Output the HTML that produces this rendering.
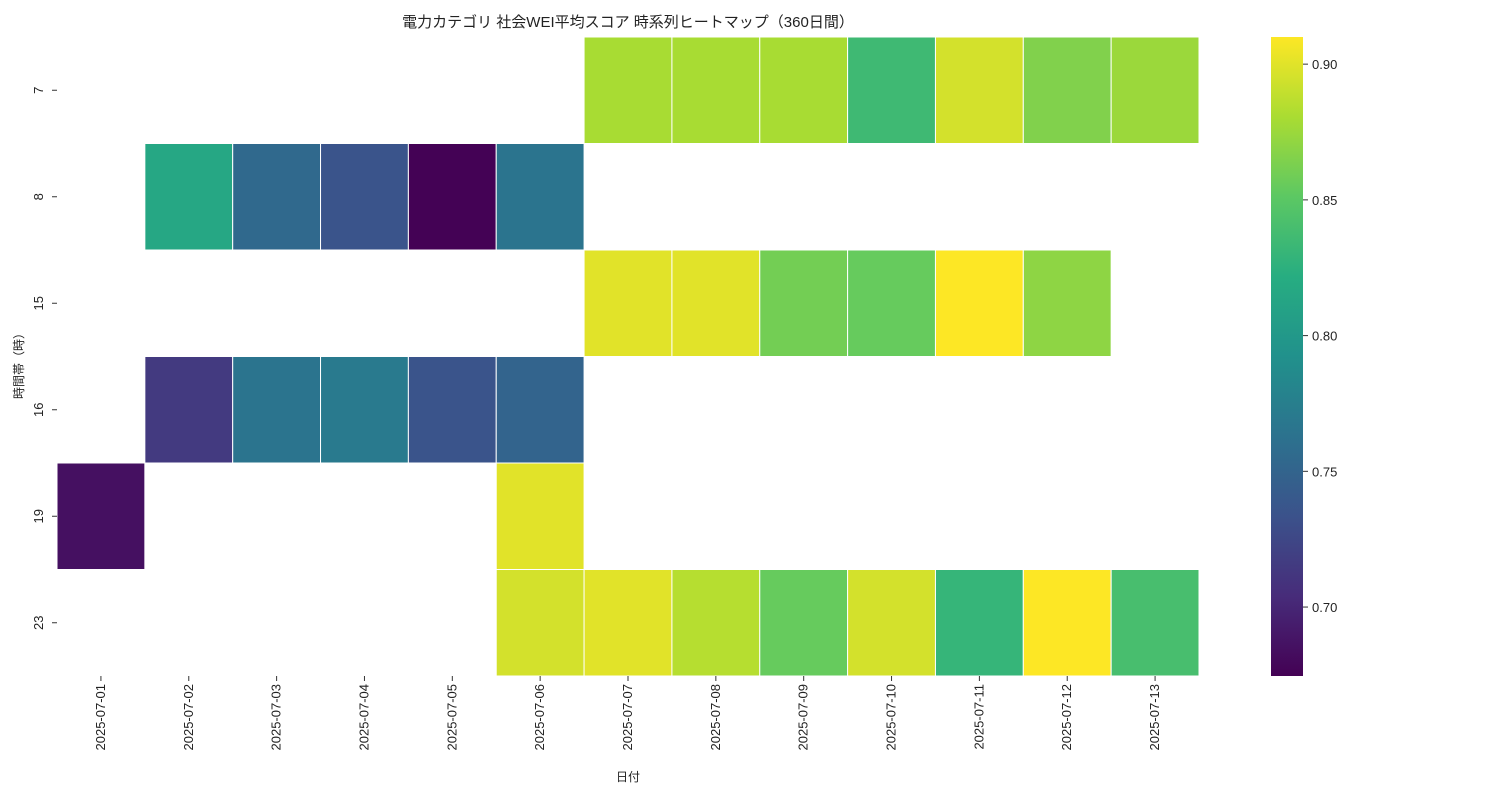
<!DOCTYPE html>
<html><head><meta charset="utf-8">
<style>
body{margin:0;background:#fff;font-family:"Liberation Sans","Noto Sans CJK JP",sans-serif;}
svg text{font-family:"Liberation Sans","Noto Sans CJK JP",sans-serif;fill:#222;}
</style></head>
<body>
<svg id="chart" width="1500" height="800" xmlns="http://www.w3.org/2000/svg">
<text x="628" y="27" font-size="15" text-anchor="middle">電力カテゴリ 社会WEI平均スコア 時系列ヒートマップ（360日間）</text>
<text x="628" y="781" font-size="12" text-anchor="middle">日付</text>
<text transform="translate(23,363) rotate(-90)" font-size="12" text-anchor="middle">時間帯（時）</text>
<defs><linearGradient id="vg" x1="0" y1="1" x2="0" y2="0">
<stop offset="0" stop-color="rgb(68,1,84)"/><stop offset="0.125" stop-color="rgb(71,44,122)"/><stop offset="0.25" stop-color="rgb(59,82,139)"/><stop offset="0.375" stop-color="rgb(44,114,142)"/><stop offset="0.5" stop-color="rgb(33,145,140)"/><stop offset="0.625" stop-color="rgb(39,173,129)"/><stop offset="0.75" stop-color="rgb(92,200,99)"/><stop offset="0.875" stop-color="rgb(170,220,50)"/><stop offset="1" stop-color="rgb(253,231,37)"/></linearGradient></defs>
<g id="cells"></g><g id="axes"></g>
</svg>
<script>
const dates=["2025-07-01","2025-07-02","2025-07-03","2025-07-04","2025-07-05","2025-07-06","2025-07-07","2025-07-08","2025-07-09","2025-07-10","2025-07-11","2025-07-12","2025-07-13"];
const hours=["7","8","15","16","19","23"];
const values=[
[null,null,null,null,null,null,0.88,0.88,0.88,0.835,0.895,0.865,0.875],
[null,0.815,0.755,0.735,0.675,0.765,null,null,null,null,null,null,null],
[null,null,null,null,null,null,0.90,0.90,0.86,0.855,0.91,0.87,null],
[null,0.715,0.765,0.77,0.735,0.75,null,null,null,null,null,null,null],
[0.685,null,null,null,null,0.90,null,null,null,null,null,null,null],
[null,null,null,null,null,0.895,0.90,0.885,0.855,0.895,0.83,0.91,0.84]];
const cbTicks=[0.70,0.75,0.80,0.85,0.90];
const vmin=0.6746,vmax=0.910;
const X0=57,X1=1199,Y0=37,Y1=676,CBX=1271,CBW=32;
const cw=(X1-X0)/dates.length,rh=(Y1-Y0)/hours.length;
const vir=[[68,1,84],[71,44,122],[59,82,139],[44,114,142],[33,145,140],[39,173,129],[92,200,99],[170,220,50],[253,231,37]];
function color(v){let t=Math.max(0,Math.min(1,(v-vmin)/(vmax-vmin)))*(vir.length-1);let i=Math.min(Math.floor(t),vir.length-2),f=t-i;const c=vir[i].map((a,k)=>Math.round(a+(vir[i+1][k]-a)*f));return`rgb(${c})`;}
function cbY(v){return Y1-(v-vmin)/(vmax-vmin)*(Y1-Y0);}
const NS="http://www.w3.org/2000/svg";
function mk(tag,attrs,parent){const e=document.createElementNS(NS,tag);for(const k in attrs)e.setAttribute(k,attrs[k]);parent.appendChild(e);return e;}
const cells=document.getElementById('cells'),axes=document.getElementById('axes');
hours.forEach((h,r)=>dates.forEach((d,c)=>{const v=values[r][c];if(v==null)return;
const e=mk('rect',{x:X0+c*cw,y:Y0+r*rh,width:cw,height:rh,fill:color(v),stroke:'#fff','stroke-width':1},cells);

}));
dates.forEach((d,c)=>{const x=X0+(c+0.5)*cw;mk('line',{x1:x,x2:x,y1:Y1,y2:Y1+5,stroke:'#333'},axes);
const t=mk('text',{transform:`translate(${x+4},${Y1+8}) rotate(-90)`,'font-size':13,'text-anchor':'end'},axes);t.textContent=d;

});
hours.forEach((h,r)=>{const y=Y0+(r+0.5)*rh;mk('line',{x1:X0-5,x2:X0,y1:y,y2:y,stroke:'#333'},axes);
const t=mk('text',{transform:`translate(${X0-14},${y}) rotate(-90)`,'font-size':13,'text-anchor':'middle'},axes);t.textContent=h;

});
const cb=mk('rect',{x:CBX,y:Y0,width:CBW,height:Y1-Y0,fill:'url(#vg)'},axes);


cbTicks.forEach(v=>{const y=cbY(v);mk('line',{x1:CBX+CBW,x2:CBX+CBW+5,y1:y,y2:y,stroke:'#333'},axes);
const t=mk('text',{x:CBX+CBW+9,y:y+5,'font-size':13},axes);t.textContent=v.toFixed(2);

});
</script>
</body></html>
